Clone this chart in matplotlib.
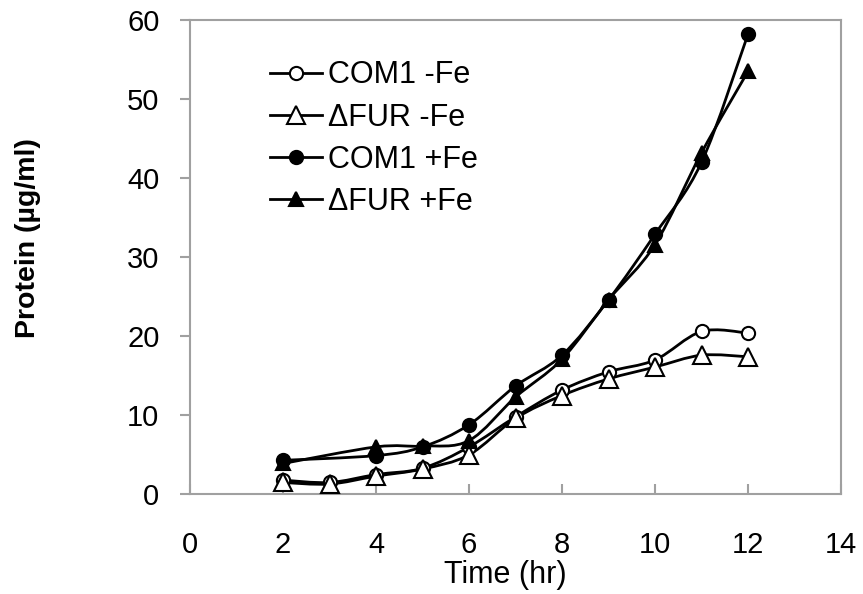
import numpy as np
import matplotlib
matplotlib.use("Agg")
import matplotlib.pyplot as plt
from matplotlib.path import Path
from matplotlib.patches import PathPatch
from matplotlib.lines import Line2D

plt.rcParams['font.family'] = ['Liberation Sans', 'DejaVu Sans']

time_minus = [2, 3, 4, 5, 6, 7, 8, 9, 10, 11, 12]
com1_minus = [1.8, 1.5, 2.5, 3.3, 6.0, 9.8, 13.2, 15.5, 17.0, 20.6, 20.4]
dfur_minus = [1.5, 1.3, 2.3, 3.2, 5.0, 9.6, 12.5, 14.6, 16.1, 17.6, 17.4]

time_plus = [2, 4, 5, 6, 7, 8, 9, 10, 11, 12]
com1_plus = [4.3, 4.9, 6.0, 8.8, 13.7, 17.6, 24.6, 32.9, 42.0, 58.2]
dfur_plus = [3.9, 6.0, 6.1, 6.8, 12.3, 17.1, 24.6, 31.6, 43.2, 53.5]

labels = ['COM1 -Fe', '\u0394FUR -Fe', 'COM1 +Fe', '\u0394FUR +Fe']

x_ticks = [0, 2, 4, 6, 8, 10, 12, 14]
y_ticks = [0, 10, 20, 30, 40, 50, 60]


def smooth_path(x, y):
    x = np.asarray(x, float)
    y = np.asarray(y, float)
    n = len(x)
    verts = [(x[0], y[0])]
    codes = [Path.MOVETO]
    for i in range(n - 1):
        p0 = np.array([x[max(i - 1, 0)], y[max(i - 1, 0)]])
        p1 = np.array([x[i], y[i]])
        p2 = np.array([x[i + 1], y[i + 1]])
        p3 = np.array([x[min(i + 2, n - 1)], y[min(i + 2, n - 1)]])
        c1 = p1 + (p2 - p0) / 6.0
        c2 = p2 - (p3 - p1) / 6.0
        verts += [tuple(c1), tuple(c2), tuple(p2)]
        codes += [Path.CURVE4] * 3
    return Path(verts, codes)


fig = plt.figure(figsize=(8.63, 5.94), dpi=100)
ax = fig.add_axes([0.2202, 0.1678, 0.7543, 0.7985])

series = [
    (time_minus, com1_minus, 'o', 'white', 9.5),
    (time_minus, dfur_minus, '^', 'white', 13),
    (time_plus, com1_plus, 'o', 'black', 9.5),
    (time_plus, dfur_plus, '^', 'black', 10.5),
]

handles = []
for (xs, ys, m, fc, ms), lab in zip(series, labels):
    ax.add_patch(PathPatch(smooth_path(xs, ys), facecolor='none',
                           edgecolor='black', lw=2.0, zorder=2))
    ax.plot(xs, ys, linestyle='none', marker=m, markersize=ms,
            markerfacecolor=fc, markeredgecolor='black', markeredgewidth=1.5,
            zorder=3)
    handles.append(Line2D([], [], color='black', lw=2.0, marker=m,
                          markersize=ms, markerfacecolor=fc,
                          markeredgecolor='black', markeredgewidth=1.5))

ax.set_xlim(0, 14)
ax.set_ylim(0, 60)
ax.set_xticks(x_ticks)
ax.set_yticks(y_ticks)
ax.tick_params(axis='x', direction='in', length=7, width=1.5, color='#a0a0a0',
               labelsize=21, pad=26.5)
ax.tick_params(axis='y', direction='out', length=7, width=1.5, color='#a0a0a0',
               labelsize=21, pad=15)
for s in ax.spines.values():
    s.set_color('#a0a0a0')
    s.set_linewidth(1.5)

ax.set_xlabel('Time (hr)', fontsize=22)
ax.xaxis.set_label_coords(0.484, -0.17)
ax.xaxis.label.set_va('center')
ax.set_ylabel('Protein (\u00b5g/ml)', fontsize=20.5, fontweight='bold')
ax.yaxis.set_label_coords(-0.249, 0.54)
ax.yaxis.label.set_va('center')

ax.legend(handles, labels, loc='upper left', bbox_to_anchor=(0.123, 0.915),
          frameon=False, fontsize=22, handlelength=1.7, handletextpad=0.2,
          labelspacing=0.4, borderaxespad=0, borderpad=0)

fig.savefig('out.png', dpi=100)
